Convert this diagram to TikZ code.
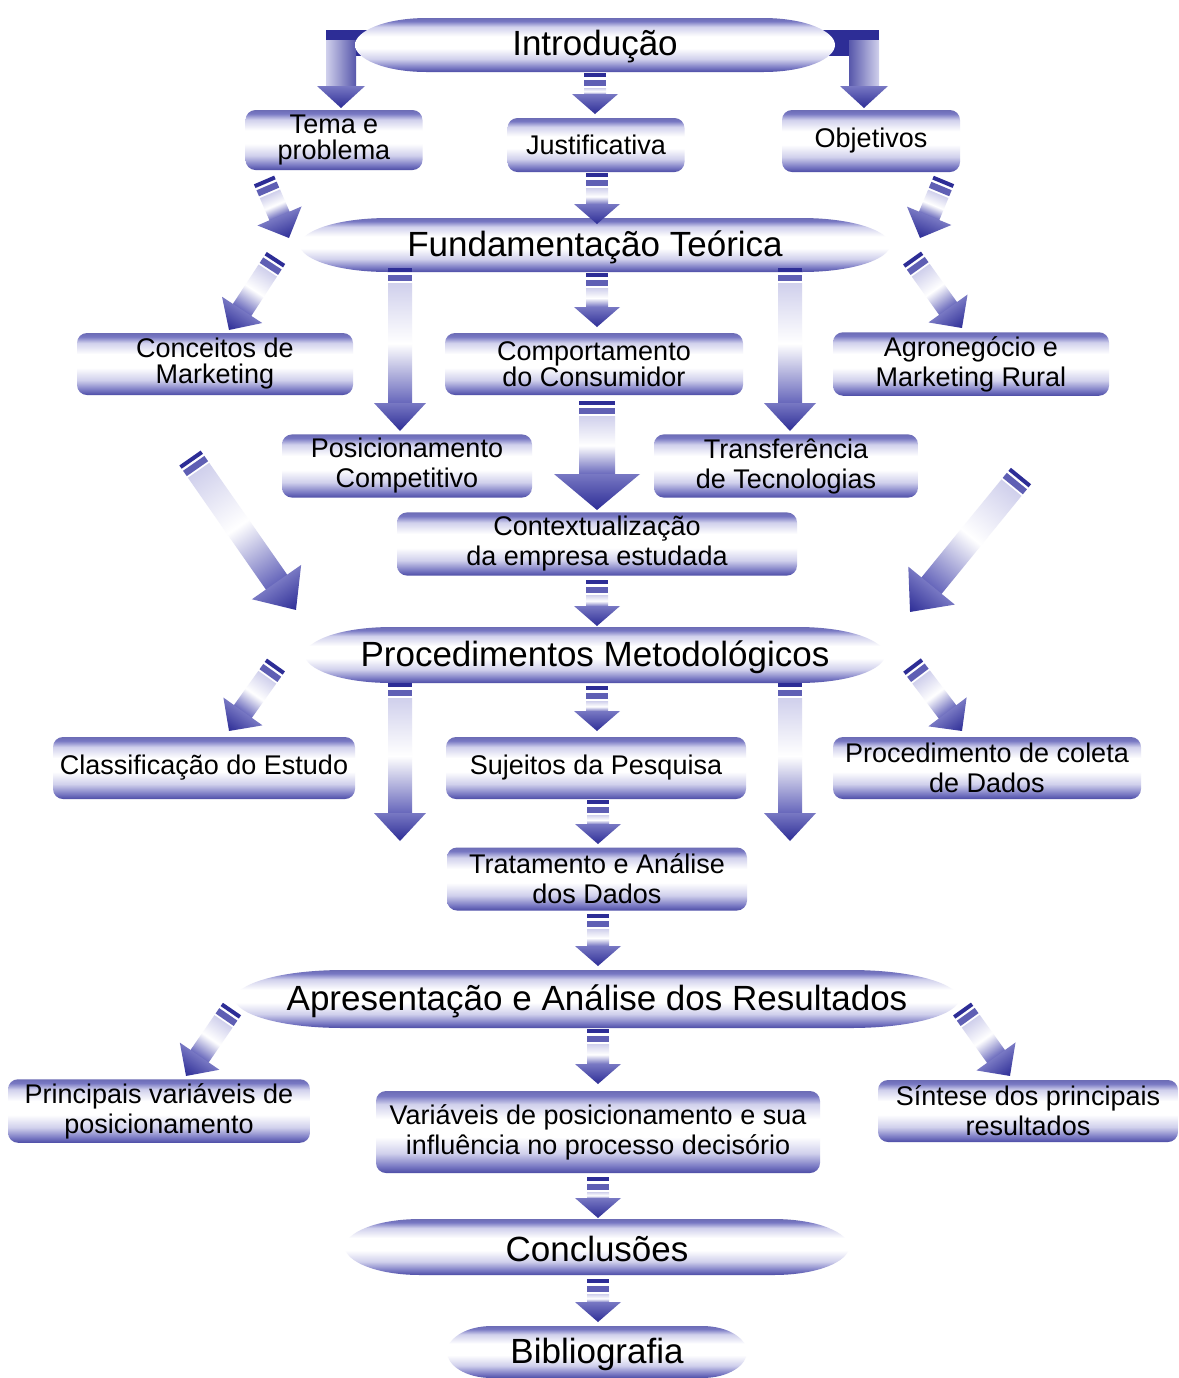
\documentclass[tikz,border=0pt]{standalone}
\usepackage{fontspec}
\setmainfont{Liberation Sans}
\usetikzlibrary{calc}

\definecolor{bdark}{RGB}{45,45,150}
\definecolor{bstripe}{RGB}{95,95,180}
\definecolor{bmid}{RGB}{120,120,195}
\definecolor{blight}{RGB}{208,208,236}
\definecolor{bshaft}{RGB}{100,100,186}

% vertical gradient for boxes and pills (first stop = bottom)
\pgfdeclareverticalshading{boxshade}{100bp}{%
  color(0bp)=(bdark!85!white); color(25bp)=(bdark!85!white);
  color(29bp)=(bmid); color(37bp)=(blight); color(47bp)=(white);
  color(58bp)=(white); color(67bp)=(blight); color(72bp)=(bmid);
  color(75bp)=(bdark!70!white); color(100bp)=(bdark!70!white)}

\newcommand\boxfont{\fontsize{13.5}{15}\selectfont}
\newcommand\pillfont{\fontsize{17.5}{20}\selectfont}

\tikzset{
  box/.style={shade, shading=boxshade, rounded corners=5pt, align=center,
              font=\boxfont, inner sep=2pt},
  pilltext/.style={inner sep=0pt, font=\pillfont},
}

% rounded box: name, cx, cy, width, height (px), text
\newcommand\bx[6]{%
  \node[box, minimum width=#4*0.5pt, minimum height=#5*0.5pt] (#1) at (#2,#3) {#6};}

% tapered pill: name, cx, cy, half width, half height (px), text
\newcommand\pill[6]{%
  \shade[shading=boxshade] (#2-#4,#3)
    .. controls (#2-#4,#3-0.5*#5) and (#2-0.88*#4,#3-#5) .. (#2-0.7*#4,#3-#5)
    -- (#2+0.7*#4,#3-#5)
    .. controls (#2+0.88*#4,#3-#5) and (#2+#4,#3-0.5*#5) .. (#2+#4,#3)
    .. controls (#2+#4,#3+0.5*#5) and (#2+0.88*#4,#3+#5) .. (#2+0.7*#4,#3+#5)
    -- (#2-0.7*#4,#3+#5)
    .. controls (#2-0.88*#4,#3+#5) and (#2-#4,#3+0.5*#5) .. cycle;
  \node[pilltext, minimum width=#4*1pt, minimum height=#5*1pt] (#1) at (#2,#3+2) {#6};}

% striped block arrow: start, tip, shaft width, head half width, head length (px)
\newdimen\arrsx \newdimen\arrsy \newdimen\arrdx \newdimen\arrdy
\newcommand\fatarrow[5]{%
  \pgfextractx{\arrsx}{\pgfpointanchor{#1}{center}}%
  \pgfextracty{\arrsy}{\pgfpointanchor{#1}{center}}%
  \pgfextractx{\arrdx}{\pgfpointanchor{#2}{center}}%
  \pgfextracty{\arrdy}{\pgfpointanchor{#2}{center}}%
  \advance\arrdx by -\arrsx
  \advance\arrdy by -\arrsy
  \pgfmathsetmacro\arrang{atan2(\arrdy,\arrdx)}%
  \pgfmathsetmacro\arrlen{2*veclen(\arrdx,\arrdy)}%
  \pgfmathsetmacro\arrhw{#3/2}%
  \pgfmathsetmacro\arrneck{\arrlen-#5}%
  \begin{scope}[transform canvas={shift={(\the\arrsx,\the\arrsy)},rotate=\arrang}]
    \fill[bdark] (0,-\arrhw) rectangle (4,\arrhw);
    \fill[bstripe] (6.5,-\arrhw) rectangle (13,\arrhw);
    \shade[left color=blight, right color=bshaft, middle color=white]
      (15,-\arrhw) rectangle (\arrneck+1,\arrhw);
    \shade[left color=bmid, right color=bdark]
      (\arrneck,-#4) -- (\arrlen,0) -- (\arrneck,#4) -- cycle;
  \end{scope}}

\begin{document}
\begin{tikzpicture}[x=0.5pt,y=-0.5pt]
\useasboundingbox (0,0) rectangle (1179,1378);
\fill[white] (0,0) rectangle (1179,1378);

% elbow connectors leaving the sides of the top pill
\coordinate (elLtip) at (341,108);
\coordinate (elRtip) at (864,108);
\fill[bdark] (326,30) rectangle (380,56);
\shade[left color=blight, right color=bdark!80!white] (326,40) rectangle (356,88);
\shade[top color=bmid, bottom color=bdark] (317,86) -- (365,86) -- (elLtip) -- cycle;
\fill[bdark] (815,30) rectangle (879,56);
\shade[left color=bdark!80!white, right color=blight] (849,40) rectangle (879,88);
\shade[top color=bmid, bottom color=bdark] (840,86) -- (888,86) -- (elRtip) -- cycle;

% pills and boxes
\pill{intro}{595}{45}{240}{27}{Introdução}
\bx{tema}{334}{140}{177}{60}{Tema e\\[-2pt]problema}
\bx{just}{596}{145}{177}{54}{Justificativa}
\bx{obj}{871}{141}{178}{62}{Objetivos}

\pill{fund}{595}{245}{295}{27}{Fundamentação Teórica}
\bx{conc}{215}{364}{276}{62}{Conceitos de\\[-2pt]Marketing}
\bx{comp}{594}{364}{298}{62}{Comportamento\\[-2pt]do Consumidor}
\bx{agro}{971}{364}{276}{62}{Agronegócio e\\Marketing Rural}
\bx{posi}{407}{466}{250}{62}{Posicionamento\\Competitivo}
\bx{trans}{786}{466}{264}{62}{Transferência\\de Tecnologias}
\bx{contx}{597}{544}{400}{63}{Contextualização\\da empresa estudada}

\pill{proc}{595}{655}{290}{28}{Procedimentos Metodológicos}
\bx{classif}{204}{768}{302}{62}{Classificação do Estudo}
\bx{suj}{596}{768}{300}{62}{Sujeitos da Pesquisa}
\bx{coleta}{987}{768}{308}{62}{Procedimento de coleta\\de Dados}
\bx{trat}{597}{879}{300}{63}{Tratamento e Análise\\dos Dados}

\pill{apres}{597}{999}{362}{29}{Apresentação e Análise dos Resultados}
\bx{princ}{159}{1111}{302}{62}{Principais variáveis de\\posicionamento}
\bx{vari}{598}{1132}{444}{82}{Variáveis de posicionamento e sua\\influência no processo decisório}
\bx{sint}{1028}{1111}{300}{62}{Síntese dos principais\\resultados}

\pill{concl}{597}{1247}{252}{28}{Conclusões}
\pill{biblio}{597}{1352}{150}{26}{Bibliografia}

% connector end points
\coordinate (aS) at (595,73);   \coordinate (aT) at (595,114);
\coordinate (bS) at (264,180);  \coordinate (bT) at (289,238);
\coordinate (cS) at (597,173);  \coordinate (cT) at (597,224);
\coordinate (dS) at (944,180);  \coordinate (dT) at (920,238);
\coordinate (eS) at (276,258);  \coordinate (eT) at (229,330);
\coordinate (fS) at (400,268);  \coordinate (fT) at (400,431);
\coordinate (gS) at (597,273);  \coordinate (gT) at (597,327);
\coordinate (hS) at (790,268);  \coordinate (hT) at (790,431);
\coordinate (iS) at (912,258);  \coordinate (iT) at (962,328);
\coordinate (jS) at (597,401);  \coordinate (jT) at (597,510);
\coordinate (kS) at (190,458);  \coordinate (kT) at (296,610);
\coordinate (lS) at (1021,476); \coordinate (lT) at (910,612);
\coordinate (mS) at (597,580);  \coordinate (mT) at (597,626);
\coordinate (nS) at (276,665);  \coordinate (nT) at (229,731);
\coordinate (oS) at (400,683);  \coordinate (oT) at (400,841);
\coordinate (pS) at (597,686);  \coordinate (pT) at (597,731);
\coordinate (qS) at (790,683);  \coordinate (qT) at (790,841);
\coordinate (rS) at (912,665);  \coordinate (rT) at (962,731);
\coordinate (sS) at (598,800);  \coordinate (sT) at (598,844);
\coordinate (tS) at (598,914);  \coordinate (tT) at (598,966);
\coordinate (uS) at (232,1009); \coordinate (uT) at (186,1076);
\coordinate (vS) at (598,1029); \coordinate (vT) at (598,1084);
\coordinate (wS) at (962,1009); \coordinate (wT) at (1010,1076);
\coordinate (xS) at (598,1177); \coordinate (xT) at (598,1218);
\coordinate (yS) at (598,1279); \coordinate (yT) at (598,1322);

% block arrows
\fatarrow{aS}{aT}{22}{23}{20}
\fatarrow{bS}{bT}{22}{24}{24}
\fatarrow{cS}{cT}{22}{23}{20}
\fatarrow{dS}{dT}{22}{24}{24}
\fatarrow{eS}{eT}{22}{24}{24}
\fatarrow{fS}{fT}{24}{26}{28}
\fatarrow{gS}{gT}{22}{23}{20}
\fatarrow{hS}{hT}{24}{26}{28}
\fatarrow{iS}{iT}{22}{24}{24}
\fatarrow{jS}{jT}{36}{43}{36}
\fatarrow{kS}{kT}{26}{30}{34}
\fatarrow{lS}{lT}{26}{30}{34}
\fatarrow{mS}{mT}{22}{23}{20}
\fatarrow{nS}{nT}{22}{24}{24}
\fatarrow{oS}{oT}{24}{26}{28}
\fatarrow{pS}{pT}{22}{23}{20}
\fatarrow{qS}{qT}{24}{26}{28}
\fatarrow{rS}{rT}{22}{24}{24}
\fatarrow{sS}{sT}{22}{23}{20}
\fatarrow{tS}{tT}{22}{23}{20}
\fatarrow{uS}{uT}{22}{24}{24}
\fatarrow{vS}{vT}{22}{23}{20}
\fatarrow{wS}{wT}{22}{24}{24}
\fatarrow{xS}{xT}{22}{23}{20}
\fatarrow{yS}{yT}{22}{23}{20}
\end{tikzpicture}
\end{document}
